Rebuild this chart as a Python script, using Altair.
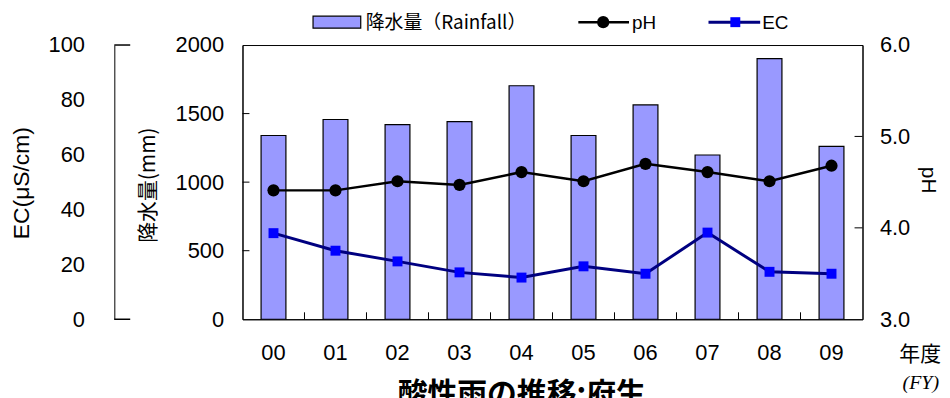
import altair as alt
import pandas as pd

years = ["00", "01", "02", "03", "04", "05", "06", "07", "08", "09"]
rainfall = [1340, 1457, 1420, 1442, 1703, 1340, 1563, 1198, 1901, 1261]
ph = [4.41, 4.41, 4.51, 4.47, 4.61, 4.51, 4.70, 4.61, 4.51, 4.68]
ec = [31.4, 25.0, 21.1, 17.1, 15.2, 19.3, 16.6, 31.6, 17.3, 16.6]

rain_ticks = [0, 500, 1000, 1500, 2000]
ph_ticks = [3.0, 4.0, 5.0, 6.0]
ec_ticks = [0, 20, 40, 60, 80, 100]

df = pd.DataFrame({"year": years, "rain": rainfall, "ph": ph, "ec": ec})

W, H = 624, 276
LATIN = "Liberation Sans"
CJK = "Noto Sans CJK JP"

xscale = alt.Scale(paddingInner=0, paddingOuter=0)
xaxis = alt.Axis(title=None, labelAngle=0, ticks=False, tickSize=0, labelPadding=24,
                 labelFontSize=22, labelFont=LATIN, labelColor="black",
                 domainColor="black", domainWidth=1, grid=False)

rain_scale = alt.Scale(domain=[0, 2000], nice=False)
ph_scale = alt.Scale(domain=[3, 6], nice=False, zero=False)
ec_scale = alt.Scale(domain=[0, 100], nice=False)

def yaxis(orient, values, pad, fmt="d", offset=0):
    return alt.Axis(orient=orient, values=values, ticks=False, tickSize=0, labelPadding=pad,
                    labelFontSize=22, labelFont=LATIN, labelColor="black", format=fmt,
                    domainColor="black", domainWidth=1, grid=False, title=None, offset=offset)

base = alt.Chart(df)

bars = base.mark_bar(size=25, color="#9999FF", stroke="black", strokeWidth=1.2).encode(
    x=alt.X("year:N", scale=xscale, axis=xaxis),
    y=alt.Y("rain:Q", scale=rain_scale, axis=yaxis("left", rain_ticks, 19)),
)

ph_line = base.mark_line(color="black", strokeWidth=2.5,
                         point=alt.OverlayMarkDef(filled=True, shape="circle", size=150,
                                                  color="black", opacity=1)).encode(
    x=alt.X("year:N", scale=xscale, axis=xaxis),
    y=alt.Y("ph:Q", scale=ph_scale, axis=yaxis("right", ph_ticks, 17, fmt=".1f")),
)

ec_line = base.mark_line(color="#000080", strokeWidth=3,
                         point=alt.OverlayMarkDef(filled=True, shape="square", size=100,
                                                  color="#0000FF", opacity=1)).encode(
    x=alt.X("year:N", scale=xscale, axis=xaxis),
    y=alt.Y("ec:Q", scale=ec_scale, axis=yaxis("left", ec_ticks, 30, offset=129)),
)

# inward tick marks
rain_tk = alt.Chart(pd.DataFrame({"v": rain_ticks[1:-1]})).mark_rule(color="black", strokeWidth=1).encode(
    y=alt.Y("v:Q", scale=rain_scale, axis=None), x=alt.value(0), x2=alt.value(7))
ph_tk = alt.Chart(pd.DataFrame({"v": ph_ticks[1:-1]})).mark_rule(color="black", strokeWidth=1).encode(
    y=alt.Y("v:Q", scale=ph_scale, axis=None), x=alt.value(W - 8), x2=alt.value(W))
ec_tk = alt.Chart(pd.DataFrame({"v": [ec_ticks[0], ec_ticks[-1]]})).mark_rule(color="black", strokeWidth=1.5).encode(
    y=alt.Y("v:Q", scale=ec_scale, axis=None), x=alt.value(-129), x2=alt.value(-113))
x_tk = alt.Chart(pd.DataFrame({"year": years[1:]})).mark_rule(color="black", strokeWidth=1).encode(
    x=alt.X("year:N", scale=xscale, axis=xaxis, bandPosition=0),
    y=alt.value(H), y2=alt.value(H - 7))

one = pd.DataFrame({"a": [0]})

def txt(text, x, y, size, font=CJK, angle=0, align="center", weight="normal", style="normal", color="black"):
    return alt.Chart(one).mark_text(text=text, font=font, fontSize=size, angle=angle, align=align,
                                    baseline="middle", fontWeight=weight, fontStyle=style,
                                    color=color).encode(x=alt.value(x), y=alt.value(y))

titles = [
    txt("EC(μS/cm)", -222, 139, 23, font=LATIN, angle=270),
    txt("降水量(mm)", -94, 141, 21, angle=270),
    txt("pH", 690, 136, 21, font=LATIN, angle=90),
    txt("年度", 703, 312, 21, align="right"),
    txt("(FY)", 701, 340, 20, font="Liberation Serif", align="right", style="italic"),
    txt("酸性雨の推移:府生", 281, 352, 30, weight="bold"),
]

# legend
leg_rect = alt.Chart(one).mark_rect(color="#9999FF", stroke="black", strokeWidth=1.2).encode(
    x=alt.value(71), x2=alt.value(119), y=alt.value(-29), y2=alt.value(-17))
leg_ph_line = alt.Chart(one).mark_rule(color="black", strokeWidth=2.5).encode(
    x=alt.value(338), x2=alt.value(389), y=alt.value(-23))
leg_ph_pt = alt.Chart(one).mark_point(filled=True, shape="circle", size=150, color="black", opacity=1).encode(
    x=alt.value(363), y=alt.value(-23))
leg_ec_line = alt.Chart(one).mark_rule(color="#000080", strokeWidth=3).encode(
    x=alt.value(469), x2=alt.value(521), y=alt.value(-23))
leg_ec_pt = alt.Chart(one).mark_point(filled=True, shape="square", size=100, color="#0000FF", opacity=1).encode(
    x=alt.value(496), y=alt.value(-23))
leg_texts = [
    txt("降水量（Rainfall）", 124, -22, 19, align="left"),
    txt("pH", 392, -22, 19, font=LATIN, align="left"),
    txt("EC", 523, -22, 19, font=LATIN, align="left"),
]

chart = alt.layer(
    bars, x_tk, rain_tk, ph_tk, ec_tk, ph_line, ec_line,
    leg_rect, leg_ph_line, leg_ph_pt, leg_ec_line, leg_ec_pt,
    *leg_texts, *titles,
).resolve_scale(y="independent").properties(
    width=W, height=H,
    autosize=alt.AutoSizeParams(type="none"),
    padding={"left": 236, "top": 36, "right": 80, "bottom": 80},
).configure_view(stroke="black", strokeWidth=1)

chart.save("out.html", embed_options={"renderer": "svg", "actions": False})
